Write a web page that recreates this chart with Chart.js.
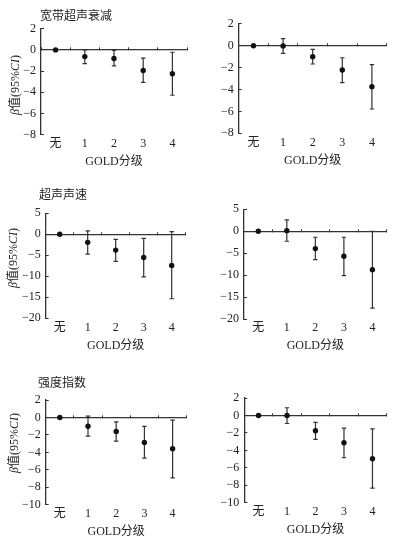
<!DOCTYPE html>
<html><head><meta charset="utf-8">
<script src="https://cdn.jsdelivr.net/npm/chart.js@4.4.1/dist/chart.umd.min.js"></script>
<style>
html,body{margin:0;padding:0;background:#fff;width:395px;height:540px;overflow:hidden;position:relative}
canvas{position:absolute;left:0;top:0}
.t{position:absolute;font-size:12px;font-family:"Liberation Serif","Noto Sans CJK SC",serif;color:#222;white-space:nowrap;line-height:1}
.ttl{font-family:"Noto Sans CJK SC",sans-serif;font-size:12px;transform:translateY(-50%)}
.yl{transform:translate(-50%,-50%) rotate(-90deg)}
</style></head><body>
<script>
// ---- data ----
const categories = ['无', '1', '2', '3', '4'];
const panelTitles = ['宽带超声衰减', '超声声速', '强度指数'];
const xTitle = 'GOLD分级';

// 宽带超声衰减 (left / right)
const buaLeftEst  = [0, -0.63, -0.81, -1.94, -2.25];
const buaLeftLo   = [null, -1.30, -1.50, -3.06, -4.28];
const buaLeftHi   = [null, 0.00, -0.05, -0.78, -0.22];
const buaRightEst = [0, -0.03, -1.00, -2.22, -3.74];
const buaRightLo  = [null, -0.70, -1.67, -3.38, -5.78];
const buaRightHi  = [null, 0.64, -0.33, -1.10, -1.73];

// 超声声速
const sosLeftEst  = [0, -1.92, -3.76, -5.52, -7.43];
const sosLeftLo   = [null, -4.72, -6.47, -10.15, -15.35];
const sosLeftHi   = [null, 0.80, -1.20, -0.96, 0.64];
const sosRightEst = [0, 0.14, -3.96, -5.70, -8.75];
const sosRightLo  = [null, -2.28, -6.47, -10.10, -17.50];
const sosRightHi  = [null, 2.58, -1.37, -1.37, 0.00];

// 强度指数
const siLeftEst  = [0, -1.00, -1.60, -2.86, -3.59];
const siLeftLo   = [null, -2.14, -2.72, -4.66, -6.92];
const siLeftHi   = [null, 0.15, -0.50, -1.03, -0.31];
const siRightEst = [0, 0.00, -1.76, -3.13, -4.97];
const siRightLo  = [null, -0.92, -2.75, -4.85, -8.33];
const siRightHi  = [null, 0.88, -0.80, -1.45, -1.53];

// ---- layout / rendering ----
const W = 395, H = 540, YW = 30, XH = 34.5;
const FONT = '"Liberation Serif", "Noto Sans CJK SC", serif';
const INK = '#222', AX = '#333';

const errPlugin = {
  id: 'errbars',
  beforeDatasetsDraw(chart, args, opts) {
    const ctx = chart.ctx, xs = chart.scales.x, ys = chart.scales.y;
    ctx.save();
    ctx.strokeStyle = AX; ctx.lineWidth = 1.2;
    opts.lo.forEach((lo, i) => {
      const hi = opts.hi[i];
      if (lo == null || hi == null) return;
      const x = xs.getPixelForValue(i);
      const y1 = ys.getPixelForValue(lo), y2 = ys.getPixelForValue(hi);
      ctx.beginPath();
      ctx.moveTo(x, y1); ctx.lineTo(x, y2);
      ctx.moveTo(x - 2.2, y1); ctx.lineTo(x + 2.2, y1);
      ctx.moveTo(x - 2.2, y2); ctx.lineTo(x + 2.2, y2);
      ctx.stroke();
    });
    ctx.restore();
  }
};

const panels = [
  {est: buaLeftEst,  lo: buaLeftLo,  hi: buaLeftHi,  min: -8,  max: 2, step: 2, area: [41, 28.7, 187, 134.7]},
  {est: buaRightEst, lo: buaRightLo, hi: buaRightHi, min: -8,  max: 2, step: 2, area: [238.7, 23.8, 386.7, 133.3]},
  {est: sosLeftEst,  lo: sosLeftLo,  hi: sosLeftHi,  min: -20, max: 5, step: 5, area: [45.7, 213.3, 185.7, 318.3]},
  {est: sosRightEst, lo: sosRightLo, hi: sosRightHi, min: -20, max: 5, step: 5, area: [244, 209.3, 386.7, 319]},
  {est: siLeftEst,   lo: siLeftLo,   hi: siLeftHi,   min: -10, max: 2, step: 2, area: [45.7, 400, 186.7, 504.7]},
  {est: siRightEst,  lo: siRightLo,  hi: siRightHi,  min: -10, max: 2, step: 2, area: [244.3, 398, 386.7, 502.7]}
];

function makeChart(p) {
  const cv = document.createElement('canvas');
  cv.width = W; cv.height = H;
  document.body.appendChild(cv);
  const [L, T, R, B] = p.area;
  new Chart(cv, {
    type: 'line',
    data: {labels: categories, datasets: [{
      data: p.est, showLine: false, pointRadius: 2.7, pointHoverRadius: 2.7,
      pointBackgroundColor: '#111', pointBorderWidth: 0, borderColor: '#111'
    }]},
    options: {
      responsive: false, animation: false, events: [],
      layout: {padding: {left: L - YW, top: T, right: W - R, bottom: H - B - XH}},
      plugins: {legend: {display: false}, tooltip: {enabled: false}, errbars: {lo: p.lo, hi: p.hi}},
      scales: {
        x: {
          type: 'category', position: 'bottom', offset: true,
          border: {display: false}, grid: {display: false, drawTicks: false, tickLength: 0},
          ticks: {color: INK, font: {family: FONT, size: 12}, padding: 2, maxRotation: 0, autoSkip: false},
          title: {display: true, text: xTitle, color: INK, font: {family: FONT, size: 12}, padding: 0},
          afterFit(s) { s.height = XH; }
        },
        x2: {
          type: 'category', position: {y: 0}, offset: true,
          border: {display: true, color: AX, width: 1.3},
          grid: {display: true, offset: true, drawOnChartArea: false, drawTicks: true, tickLength: -3, color: AX, lineWidth: 1},
          ticks: {display: false}
        },
        y: {
          type: 'linear', position: 'left', min: p.min, max: p.max,
          border: {display: true, color: AX, width: 1.3},
          grid: {drawOnChartArea: false, drawTicks: true, tickLength: -3, color: AX, lineWidth: 1},
          ticks: {stepSize: p.step, padding: 8, color: INK, font: {family: FONT, size: 12},
                  callback: v => String(v).replace('-', '\u2212')},
          afterFit(s) { s.width = YW; }
        }
      }
    },
    plugins: [errPlugin]
  });
}
panels.forEach(makeChart);

function addText(html, cls, left, top) {
  const d = document.createElement('div');
  d.className = 't ' + cls;
  d.innerHTML = html;
  d.style.left = left + 'px'; d.style.top = top + 'px';
  document.body.appendChild(d);
}
const titlePos = [[40, 15], [39, 194], [38, 382]];
panelTitles.forEach((t, i) => addText(t, 'ttl', titlePos[i][0], titlePos[i][1]));
const yLabel = '<i>β</i>值(95%<i>CI</i>)';
[[15, 85], [13, 258], [13.5, 443]].forEach(([x, y]) => addText(yLabel, 'yl', x, y));
</script>
</body></html>
